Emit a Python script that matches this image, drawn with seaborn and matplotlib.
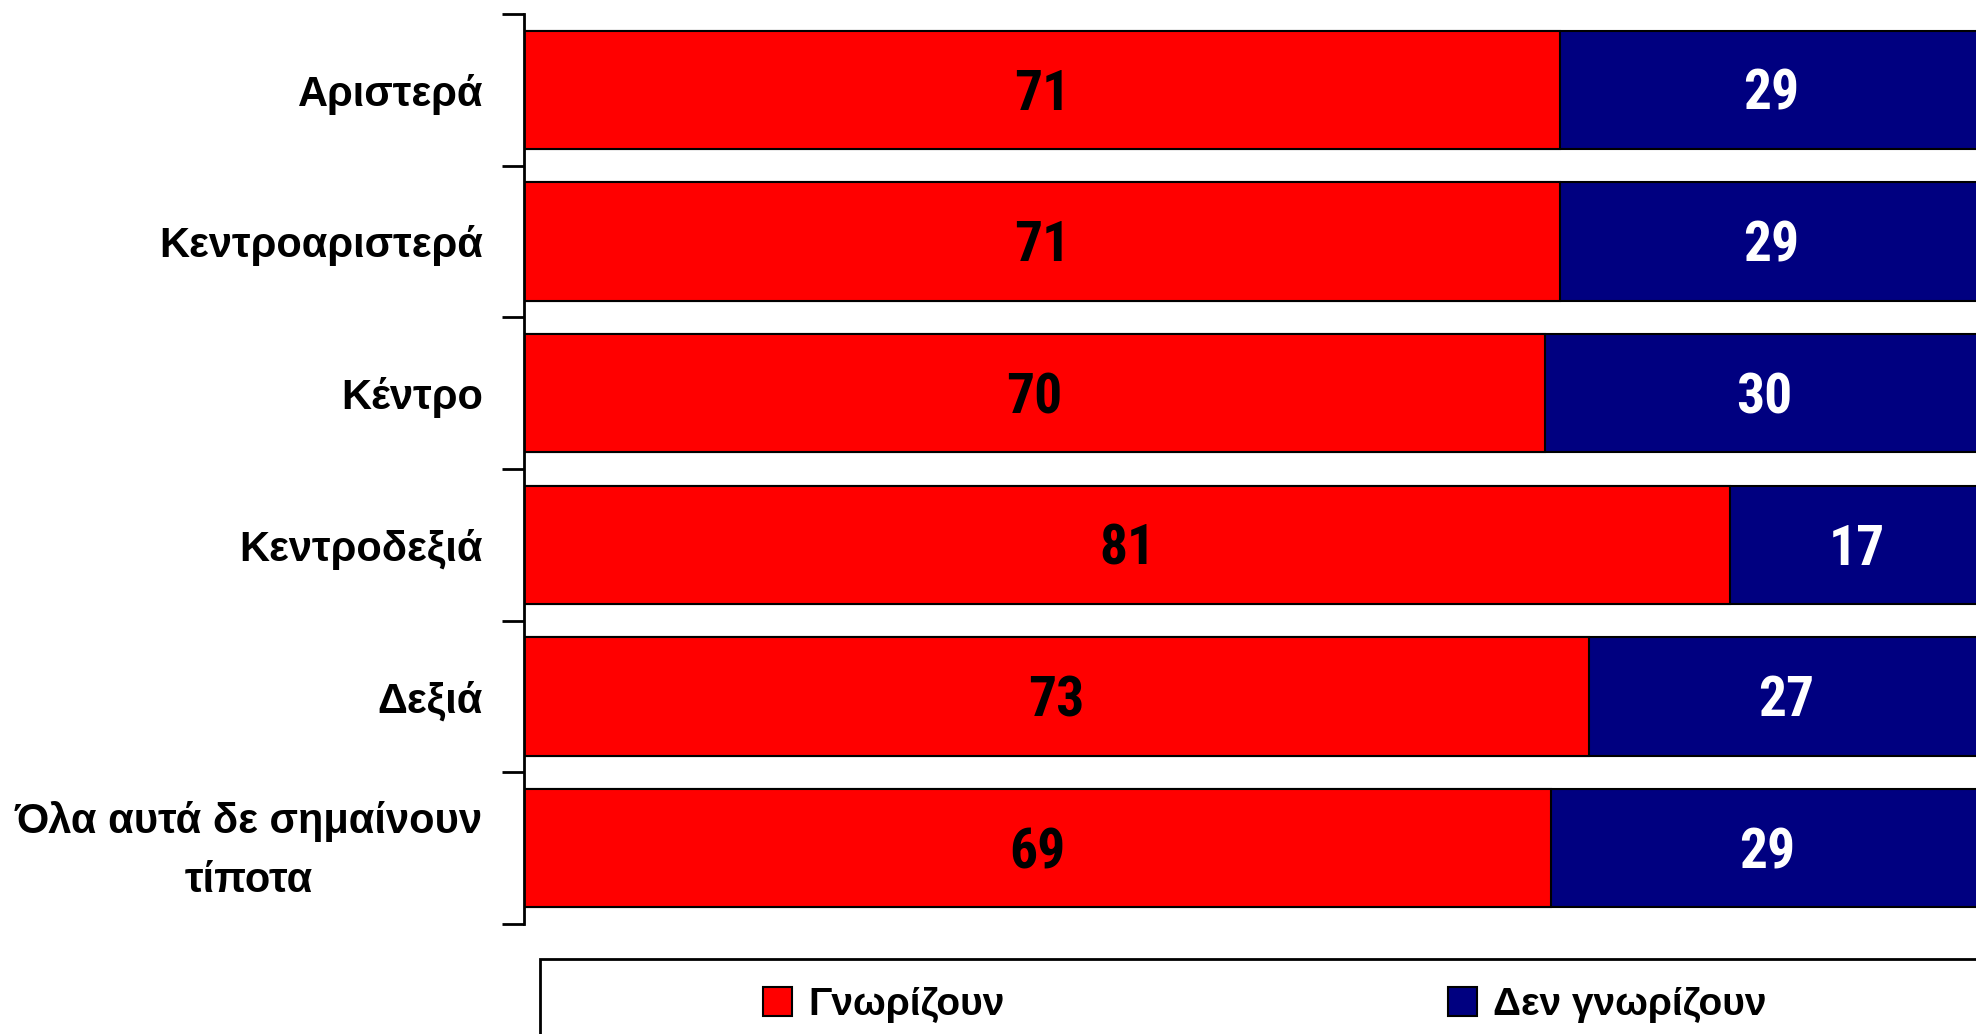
import matplotlib
matplotlib.use("Agg")
import matplotlib.pyplot as plt
from matplotlib import font_manager as fm
import matplotlib.transforms as mtrans
import seaborn as sns
import pandas as pd
import numpy as np
from matplotlib.patches import Patch, Rectangle

categories = ["Αριστερά", "Κεντροαριστερά", "Κέντρο", "Κεντροδεξιά", "Δεξιά",
              "Όλα αυτά δε σημαίνουν\nτίποτα"]
know = [71, 71, 70, 81, 73, 69]
dont_know = [29, 29, 30, 17, 27, 29]
series_names = ["Γνωρίζουν", "Δεν γνωρίζουν"]
colors = ["#FF0000", "#000080"]


def first_bold_font(cands):
    entries = fm.fontManager.ttflist
    for c in cands:
        for f in entries:
            w = f.weight if isinstance(f.weight, int) else (700 if "bold" in str(f.weight).lower() else 400)
            if f.name == c and w >= 700:
                return c
    return "Liberation Sans"


narrow_font = first_bold_font(["Liberation Sans Narrow", "Arial Narrow", "Archivo Narrow",
                               "Roboto Condensed", "PT Sans Narrow", "Open Sans Condensed",
                               "Fira Sans Condensed", "IBM Plex Sans Condensed"])

sns.set_theme(style="white")
plt.rcParams["font.family"] = ["Liberation Sans", "DejaVu Sans"]
plt.rcParams["text.color"] = "black"
plt.rcParams["ytick.color"] = "black"

know_a = np.array(know, dtype=float)
dk_a = np.array(dont_know, dtype=float)
tot = know_a + dk_a
know_pct = know_a / tot * 100
dk_pct = dk_a / tot * 100

df = pd.DataFrame({"cat": categories, "know": know_pct, "total": know_pct + dk_pct})

W, H = 1976, 1034
fig = plt.figure(figsize=(W / 100, H / 100), dpi=100)
ax = fig.add_axes([524 / W, 1 - 924 / H, (1983 - 524) / W, (924 - 14) / H])

sns.barplot(data=df, y="cat", x="total", color=colors[1], orient="h", width=0.78,
            edgecolor="black", linewidth=1.5, ax=ax, saturation=1)
sns.barplot(data=df, y="cat", x="know", color=colors[0], orient="h", width=0.78,
            edgecolor="black", linewidth=1.5, ax=ax, saturation=1)

narrow = [narrow_font, "Liberation Sans", "DejaVu Sans"]
for i in range(len(categories)):
    ax.annotate(str(know[i]), (know_pct[i] / 2, i), xytext=(0, -3.5), textcoords="offset points",
                ha="center", va="center", fontsize=40, fontweight="bold", color="black",
                family=narrow)
    ax.annotate(str(dont_know[i]), (know_pct[i] + dk_pct[i] / 2, i), xytext=(0, -3.5),
                textcoords="offset points", ha="center", va="center", fontsize=40,
                fontweight="bold", color="white", family=narrow)

ax.set_xlim(0, 100)
ax.set_ylim(len(categories) - 0.5, -0.5)
ax.set_xlabel("")
ax.set_ylabel("")
ax.set_xticks([])
for s in ["top", "right", "bottom"]:
    ax.spines[s].set_visible(False)
ax.spines["left"].set_linewidth(2)
ax.spines["left"].set_color("black")

ax.set_yticks(np.arange(-0.5, len(categories), 1.0))
ax.set_yticklabels([])
ax.tick_params(axis="y", which="major", length=16, width=2, color="black", direction="out", left=True)
ax.set_yticks(np.arange(len(categories)), minor=True)
ax.set_yticklabels(categories, minor=True, fontsize=30, fontweight="bold", ha="right",
                   multialignment="center", linespacing=1.62, color="black")
ax.tick_params(axis="y", which="minor", length=0, pad=29.5)
for lab in ax.get_yticklabels(minor=True):
    if "\n" in lab.get_text():
        lab.set_transform(lab.get_transform() +
                          mtrans.ScaledTranslation(0, 11 / 100, fig.dpi_scale_trans))

# legend
handles = [Patch(facecolor=c, edgecolor="black", linewidth=1.5) for c in colors]
leg = fig.legend(handles, series_names, loc="center left",
                 bbox_to_anchor=(763 / W, 1 - 1005 / H), ncol=2, frameon=False,
                 prop={"size": 28, "weight": "bold"}, handlelength=0.74, handleheight=0.74,
                 handletextpad=0.42, columnspacing=11.4, borderaxespad=0, borderpad=0)
fig.patches.append(Rectangle((540 / W, -0.05), 1.2, 1.05 - 959 / H, transform=fig.transFigure,
                             fill=False, edgecolor="black", linewidth=2))

fig.savefig("out.png", dpi=100)
